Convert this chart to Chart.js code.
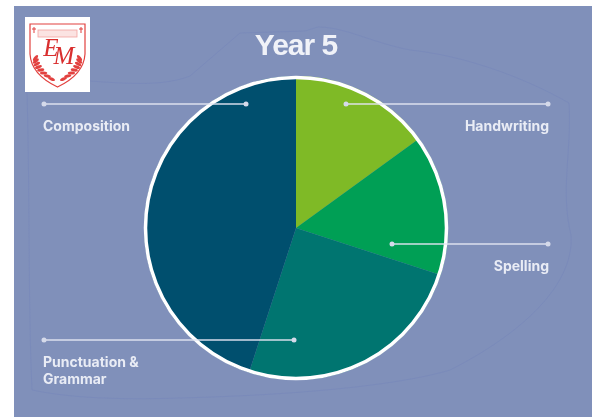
<!DOCTYPE html>
<html>
<head>
<meta charset="utf-8">
<title>Year 5</title>
<script src="https://cdn.jsdelivr.net/npm/chart.js@4/dist/chart.umd.min.js"></script>
<style>
  html, body { margin: 0; padding: 0; background: #fff; }
  #wrap { position: relative; width: 592px; height: 417px; overflow: hidden; }
  #panel { position: absolute; left: 14px; top: 6px; right: 0; bottom: 0; background: #8090ba; }
  canvas { position: absolute; left: 0; top: 0; }
</style>
</head>
<body>
<div id="wrap">
  <div id="panel"></div>
  <canvas id="chart" width="592" height="417"></canvas>
</div>
<script>
const categories = ["Handwriting", "Spelling", "Punctuation & Grammar", "Composition"];
const shares = [15, 15, 25, 45];
const sliceColors = ["#7fba26", "#009f55", "#007570", "#004f6e"];

// leader lines, in slice order
const callouts = [
  { from: [346, 104], to: [548, 104], text: ["Handwriting"], x: 549, y: 127, align: "right" },
  { from: [392, 244], to: [548, 244], text: ["Spelling"], x: 549, y: 267, align: "right" },
  { from: [294, 340], to: [44, 340], text: ["Punctuation &", "Grammar"], x: 43, y: 363, align: "left" },
  { from: [246, 104], to: [44, 104], text: ["Composition"], x: 43, y: 127, align: "left" },
];

const labelFont = '700 14px Inter, "Open Sans", sans-serif';

// faint wavy outline behind the pie
const backdrop = {
  id: "backdrop",
  beforeDraw(chart) {
    const ctx = chart.ctx;
    ctx.save();
    ctx.strokeStyle = "rgba(112, 128, 186, 0.35)";
    ctx.lineWidth = 1;
    ctx.beginPath();
    ctx.moveTo(90, 81);
    ctx.bezierCurveTo(130, 84, 165, 86, 190, 76);
    ctx.lineTo(240, 33);
    ctx.lineTo(305, 31);
    ctx.lineTo(318, 27);
    ctx.bezierCurveTo(345, 27, 370, 42, 410, 50);
    ctx.bezierCurveTo(460, 55, 520, 75, 569, 103);
    ctx.bezierCurveTo(572, 150, 560, 190, 571, 235);
    ctx.bezierCurveTo(575, 290, 510, 340, 450, 370);
    ctx.bezierCurveTo(400, 385, 300, 395, 180, 398);
    ctx.bezierCurveTo(120, 400, 70, 398, 32, 390);
    ctx.bezierCurveTo(28, 300, 30, 200, 27, 92);
    ctx.stroke();
    ctx.restore();
  },
};

const calloutLines = {
  id: "callouts",
  afterDraw(chart) {
    const ctx = chart.ctx;
    ctx.save();
    callouts.forEach((c) => {
      ctx.strokeStyle = "rgba(226, 230, 242, 0.7)";
      ctx.lineWidth = 2;
      ctx.beginPath();
      ctx.moveTo(c.from[0], c.from[1]);
      ctx.lineTo(c.to[0], c.to[1]);
      ctx.stroke();
      [c.from, c.to].forEach((p) => {
        ctx.fillStyle = "#d5daea";
        ctx.beginPath();
        ctx.arc(p[0], p[1], 2.5, 0, Math.PI * 2);
        ctx.fill();
      });
      ctx.fillStyle = "#e9ecf5";
      ctx.font = labelFont;
      ctx.textAlign = c.align;
      ctx.textBaseline = "middle";
      c.text.forEach((line, i) => ctx.fillText(line, c.x, c.y + i * 17));
    });
    ctx.restore();
  },
};

// small cross for the crest's top corners
function crossMark(ctx, x, y) {
  ctx.fillRect(x - 0.5, y - 3, 1, 6);
  ctx.fillRect(x - 2, y - 1.5, 4, 1);
}

// school crest in the top left corner
const crest = {
  id: "crest",
  afterDraw(chart) {
    const ctx = chart.ctx;
    ctx.save();
    ctx.fillStyle = "#fff";
    ctx.fillRect(25, 17, 65, 75);
    ctx.strokeStyle = "#e2413f";
    ctx.lineWidth = 1.2;
    ctx.beginPath();
    ctx.moveTo(30, 24);
    ctx.lineTo(85, 24);
    ctx.lineTo(85, 54);
    ctx.bezierCurveTo(84, 72, 68, 82, 57.5, 87);
    ctx.bezierCurveTo(47, 82, 31, 72, 30, 54);
    ctx.closePath();
    ctx.stroke();
    // banner
    ctx.fillStyle = "#fbe3e2";
    ctx.strokeStyle = "#f2a3a1";
    ctx.lineWidth = 0.8;
    ctx.fillRect(38, 30, 39, 7);
    ctx.strokeRect(38, 30, 39, 7);
    ctx.fillStyle = "#e2413f";
    crossMark(ctx, 34, 30);
    crossMark(ctx, 81, 30);
    // laurel leaves
    for (let i = 0; i < 8; i++) {
      const t = i / 7;
      const dx = 22 - 16 * t * t;
      const y = 58 + t * 21;
      [-1, 1].forEach((s) => {
        ctx.beginPath();
        ctx.ellipse(57.5 + s * dx, y, 3.6, 1.5, s * (0.9 - t * 1.3), 0, Math.PI * 2);
        ctx.fill();
      });
    }
    ctx.fillStyle = "#d92f2f";
    ctx.font = 'italic 25px "Liberation Serif", serif';
    ctx.textAlign = "center";
    ctx.textBaseline = "middle";
    ctx.fillText("E", 51, 49);
    ctx.fillText("M", 64, 57);
    ctx.restore();
  },
};

new Chart(document.getElementById("chart"), {
  type: "pie",
  data: {
    labels: categories,
    datasets: [{
      data: shares,
      backgroundColor: sliceColors,
      borderWidth: 0,
    }],
  },
  options: {
    responsive: false,
    animation: false,
    // pie box centred on 296,228
    layout: { padding: { left: 144, right: 144, top: 76, bottom: 37 } },
    plugins: {
      legend: { display: false },
      tooltip: { enabled: false },
    },
  },
  plugins: [
    backdrop,
    {
      id: "rim",
      afterDatasetsDraw(chart) {
        const arc = chart.getDatasetMeta(0).data[0];
        const ctx = chart.ctx;
        ctx.save();
        ctx.strokeStyle = "#fff";
        ctx.lineWidth = 3.5;
        ctx.beginPath();
        ctx.arc(arc.x, arc.y, arc.outerRadius - 1.5, 0, Math.PI * 2);
        ctx.stroke();
        ctx.fillStyle = "#f0f2f8";
        ctx.font = 'bold 30px "Liberation Sans", sans-serif';
        ctx.letterSpacing = "-1px";
        ctx.textAlign = "center";
        ctx.textBaseline = "middle";
        ctx.fillText("Year 5", arc.x, 47);
        ctx.restore();
      },
    },
    calloutLines,
    crest,
  ],
});
</script>
</body>
</html>
